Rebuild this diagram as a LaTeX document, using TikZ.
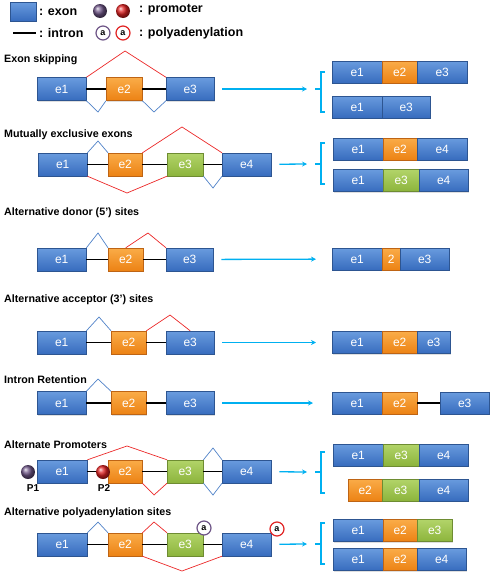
\documentclass[tikz,border=0pt]{standalone}
\usepackage{fontspec}
\setmainfont{Liberation Sans}
\usetikzlibrary{arrows.meta,shadows}
\definecolor{exb}{RGB}{55,108,190}
\definecolor{exbL}{RGB}{105,155,222}
\definecolor{exbD}{RGB}{45,85,145}
\definecolor{exo}{RGB}{236,130,20}
\definecolor{exoL}{RGB}{250,172,72}
\definecolor{exoD}{RGB}{190,100,20}
\definecolor{exg}{RGB}{140,180,60}
\definecolor{exgL}{RGB}{178,212,105}
\definecolor{exgD}{RGB}{110,140,50}
\definecolor{promP}{RGB}{110,85,135}
\definecolor{promR}{RGB}{225,35,35}
\definecolor{flowc}{RGB}{0,176,240}
\definecolor{splR}{RGB}{235,40,40}
\definecolor{splB}{RGB}{80,130,200}
\begin{document}
\begin{tikzpicture}[x=1pt,y=-1pt,every node/.style={inner sep=0pt},
  bex/.style={draw=exbD,top color=exbL,bottom color=exb,text=white,
    font=\fontsize{12}{12}\selectfont,minimum height=23pt,anchor=west,
    drop shadow={opacity=0.25,shadow xshift=1pt,shadow yshift=-1pt}},
  oex/.style={bex,draw=exoD,top color=exoL,bottom color=exo},
  gex/.style={bex,draw=exgD,top color=exgL,bottom color=exg},
  rna/.style={minimum height=22pt},
  title/.style={anchor=west,font=\bfseries\fontsize{10.7}{10.7}\selectfont},
  legend/.style={anchor=west,font=\bfseries\fontsize{12.5}{12.5}\selectfont},
  intron/.style={line width=1.8pt},
  sred/.style={splR,line width=0.7pt},
  sblue/.style={splB,line width=0.7pt},
  flow/.style={flowc,line width=1.3pt,shorten <=8pt,-{Stealth[length=5pt,width=5pt]}},
  brace/.style={flowc,line width=1.8pt},
  prom/.style={circle,minimum size=14pt},
  polya/.style={circle,fill=white,line width=1.2pt,minimum size=14pt,
    font=\bfseries\fontsize{9}{9}\selectfont},
  plab/.style={font=\bfseries\fontsize{10}{10}\selectfont}]
\useasboundingbox (0,0) rectangle (492,576);

% legend
\node[bex,minimum width=26pt,minimum height=19pt] (lgE) at (10,11.5) {};
\node[legend] (lgEt) at (39,12) {: exon};
\node[prom,ball color=promP] (lgP1) at (100,11) {};
\node[prom,ball color=promR] (lgP2) at (123,11) {};
\node[legend] (lgPt) at (139,10) {: promoter};
\draw[intron] (13,33) -- (36,33);
\node[legend] (lgIt) at (39,33) {: intron};
\node[polya,draw=promP] (lgA1) at (103,33) {a};
\node[polya,draw=promR] (lgA2) at (123,33) {a};
\node[legend] (lgAt) at (139,33) {: polyadenylation};

% exon skipping
\node[title] (skT) at (4,60) {Exon skipping};
\node[bex,minimum width=49pt] (sk1) at (37,89) {e1};
\node[oex,minimum width=36pt] (sk2) at (106,89) {e2};
\node[bex,minimum width=48pt] (sk3) at (166,89) {e3};
\draw[intron] (sk1) -- (sk2) (sk2) -- (sk3);
\draw[sred] (sk1.north east) -- (125,51) -- (sk3.north west);
\draw[sblue] (sk1.south east) -- (98,112) -- (sk2.south west);
\draw[sblue] (sk2.south east) -- (154,112) -- (sk3.south west);
\coordinate (skB) at (307,89);
\draw[flow] (sk3) -- (skB);
\draw[brace] (325,72) -- (321,72) -- (321,112) -- (325,112) (321,89) -- (315,89);
\node[bex,rna,minimum width=50pt] (skA1) at (332,72) {e1};
\node[oex,rna,minimum width=35pt] (skA2) at (382,72) {e2};
\node[bex,rna,minimum width=50pt] (skA3) at (417,72) {e3};
\node[bex,rna,minimum width=50pt] (skB1) at (332,107) {e1};
\node[bex,rna,minimum width=48pt] (skB3) at (382,107) {e3};

% mutually exclusive exons
\node[title] (mxT) at (4,135) {Mutually exclusive exons};
\node[bex,minimum width=49pt] (mx1) at (38,164.5) {e1};
\node[oex,minimum width=34pt] (mx2) at (108,164.5) {e2};
\node[gex,minimum width=36pt] (mx3) at (167,164.5) {e3};
\node[bex,minimum width=49pt] (mx4) at (222,164.5) {e4};
\draw[intron] (mx1) -- (mx2) (mx2) -- (mx3) (mx3) -- (mx4);
\draw[sblue] (mx1.north east) -- (98,141) -- (mx2.north west);
\draw[sred] (mx2.north east) -- (182,127) -- (mx4.north west);
\draw[sred] (mx1.south east) -- (127,193) -- (mx3.south west);
\draw[sblue] (mx3.south east) -- (213,188) -- (mx4.south west);
\coordinate (mxB) at (307,164);
\draw[flow] (mx4) -- (mxB);
\draw[brace] (325,143) -- (321,143) -- (321,184) -- (325,184) (321,164) -- (315,164);
\node[bex,rna,minimum width=50pt] (mxA1) at (333,149) {e1};
\node[oex,rna,minimum width=34pt] (mxA2) at (383,149) {e2};
\node[bex,rna,minimum width=50pt] (mxA4) at (417,149) {e4};
\node[bex,rna,minimum width=50pt] (mxB1) at (333,180.5) {e1};
\node[gex,rna,minimum width=36pt] (mxB3) at (383,180.5) {e3};
\node[bex,rna,minimum width=49pt] (mxB4) at (419,180.5) {e4};

% alternative donor
\node[title] (dnT) at (4,213) {Alternative donor (5’) sites};
\node[bex,minimum width=49pt] (dn1) at (37,259.5) {e1};
\node[oex,minimum width=35pt] (dn2) at (108,259.5) {e2};
\node[bex,minimum width=47pt] (dn3) at (166,259.5) {e3};
\draw[intron] (dn1) -- (dn2) (dn2) -- (dn3);
\draw[sblue] (dn1.north east) -- (98,233) -- (dn2.north west);
\draw[sred] (dn2.north) -- (148,233) -- (dn3.north west);
\node[bex,rna,minimum width=50pt] (dnA1) at (332,259) {e1};
\node[oex,rna,minimum width=18pt] (dnA2) at (382,259) {2};
\node[bex,rna,minimum width=49pt] (dnA3) at (400,259) {e3};
\draw[flow,shorten >=16pt] (dn3) -- (dnA1);

% alternative acceptor
\node[title] (acT) at (4,300) {Alternative acceptor (3’) sites};
\node[bex,minimum width=49pt] (ac1) at (37,342.5) {e1};
\node[oex,minimum width=35pt] (ac2) at (111,342.5) {e2};
\node[bex,minimum width=48pt] (ac3) at (166,342.5) {e3};
\draw[intron] (ac1) -- (ac2) (ac2) -- (ac3);
\draw[sblue] (ac1.north east) -- (99,317) -- (ac2.north west);
\draw[sred] (ac2.north east) -- (170,315) -- (ac3.north);
\node[bex,rna,minimum width=50pt] (acA1) at (332,342.5) {e1};
\node[oex,rna,minimum width=35pt] (acA2) at (382,342.5) {e2};
\node[bex,rna,minimum width=33pt] (acA3) at (417,342.5) {e3};
\draw[flow,shorten >=16pt] (ac3) -- (acA1);

% intron retention
\node[title] (irT) at (4,380) {Intron Retention};
\node[bex,minimum width=49pt] (ir1) at (37,403) {e1};
\node[oex,minimum width=35pt] (ir2) at (111,403) {e2};
\node[bex,minimum width=48pt] (ir3) at (166,403) {e3};
\draw[intron] (ir1) -- (ir2) (ir2) -- (ir3);
\draw[sblue] (ir1.north east) -- (98,379) -- (ir2.north west);
\node[bex,rna,minimum width=50pt] (irA1) at (332,403) {e1};
\node[oex,rna,minimum width=35pt] (irA2) at (382,403) {e2};
\node[bex,rna,minimum width=49pt] (irA3) at (440,403) {e3};
\draw[intron] (irA2) -- (irA3);
\draw[flow,shorten >=19pt] (ir3) -- (irA1);

% alternate promoters
\node[title] (prT) at (4,445) {Alternate Promoters};
\node[bex,minimum width=50pt] (pr1) at (37,471.5) {e1};
\node[oex,minimum width=34pt] (pr2) at (108,471.5) {e2};
\node[gex,minimum width=36pt] (pr3) at (167,471.5) {e3};
\node[bex,minimum width=49pt] (pr4) at (222,471.5) {e4};
\draw[intron] (pr1) -- (pr2) (pr2) -- (pr3) (pr3) -- (pr4);
\draw[sred] (pr1.north east) -- (127,446) -- (pr3.north west);
\draw[sred] (pr2.south east) -- (154,495) -- (pr3.south west);
\draw[sblue] (pr3.north east) -- (213,448) -- (pr4.north west);
\draw[sblue] (pr3.south east) -- (213,495) -- (pr4.south west);
\node[prom,ball color=promP] (prP1) at (28,472) {};
\node[prom,ball color=promR] (prP2) at (103,472) {};
\node[plab] (prL1) at (33,488) {P1};
\node[plab] (prL2) at (104,488) {P2};
\coordinate (prB) at (307,472);
\draw[flow] (pr4) -- (prB);
\draw[brace] (325,452) -- (321,452) -- (321,493) -- (325,493) (321,472) -- (315,472);
\node[bex,rna,minimum width=50pt] (prA1) at (333,455) {e1};
\node[gex,rna,minimum width=36pt] (prA3) at (383,455) {e3};
\node[bex,rna,minimum width=49pt] (prA4) at (419,455) {e4};
\node[oex,rna,minimum width=34pt] (prB2) at (348,490) {e2};
\node[gex,rna,minimum width=37pt] (prB3) at (382,490) {e3};
\node[bex,rna,minimum width=49pt] (prB4) at (419,490) {e4};

% alternative polyadenylation
\node[title] (paT) at (4,513) {Alternative polyadenylation sites};
\node[bex,minimum width=50pt] (pa1) at (37,544.5) {e1};
\node[oex,minimum width=34pt] (pa2) at (108,544.5) {e2};
\node[gex,minimum width=36pt] (pa3) at (167,544.5) {e3};
\node[bex,minimum width=49pt] (pa4) at (222,544.5) {e4};
\draw[intron] (pa1) -- (pa2) (pa2) -- (pa3) (pa3) -- (pa4);
\draw[sblue] (pa1.north east) -- (98,522) -- (pa2.north west);
\draw[sred] (pa2.north east) -- (154,522) -- (pa3.north west);
\draw[sred] (pa2.south east) -- (182,571) -- (pa4.south west);
\node[polya,draw=promP] (paA1) at (204,528) {a};
\node[polya,draw=promR] (paA2) at (277,529) {a};
\coordinate (paB) at (307,544);
\draw[flow] (pa4) -- (paB);
\draw[brace] (325,523) -- (321,523) -- (321,564) -- (325,564) (321,544) -- (315,544);
\node[bex,rna,minimum width=50pt] (paA1r) at (333,530.5) {e1};
\node[oex,rna,minimum width=34pt] (paA2r) at (383,530.5) {e2};
\node[gex,rna,minimum width=35pt] (paA3r) at (417,530.5) {e3};
\node[bex,rna,minimum width=50pt] (paB1) at (333,559.5) {e1};
\node[oex,rna,minimum width=34pt] (paB2) at (383,559.5) {e2};
\node[bex,rna,minimum width=49pt] (paB4) at (417,559.5) {e4};
\end{tikzpicture}
\end{document}
